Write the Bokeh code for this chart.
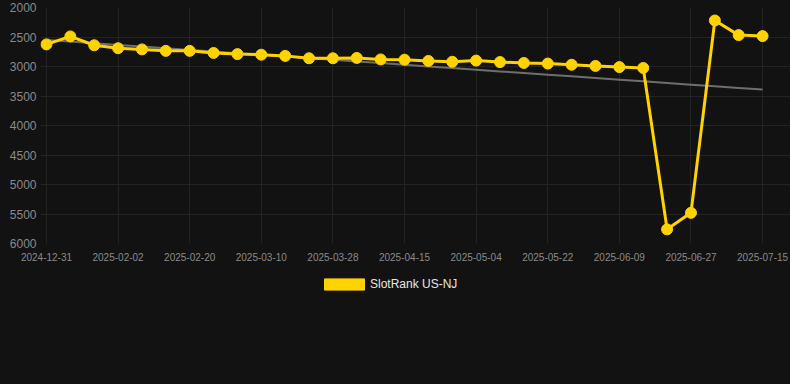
import numpy as np
from bokeh.plotting import figure
from bokeh.layouts import column
from bokeh.models import Range1d, FixedTicker, Legend, LegendItem
from bokeh.embed import file_html
from bokeh.resources import INLINE

dates = ["2024-12-31", "2025-01-12", "2025-01-24", "2025-02-02", "2025-02-08", "2025-02-14",
         "2025-02-20", "2025-02-26", "2025-03-04", "2025-03-10", "2025-03-16", "2025-03-22",
         "2025-03-28", "2025-04-03", "2025-04-09", "2025-04-15", "2025-04-21", "2025-04-27",
         "2025-05-04", "2025-05-10", "2025-05-16", "2025-05-22", "2025-05-28", "2025-06-03",
         "2025-06-09", "2025-06-15", "2025-06-21", "2025-06-27", "2025-07-03", "2025-07-09",
         "2025-07-15"]
ranks = [2625, 2490, 2640, 2690, 2710, 2735, 2735, 2770, 2790, 2800, 2820, 2860,
         2860, 2855, 2880, 2885, 2905, 2920, 2900, 2925, 2940, 2950, 2970, 2990,
         3010, 3025, 5760, 5480, 2220, 2468, 2485]
y_ticks = [2000, 2500, 3000, 3500, 4000, 4500, 5000, 5500, 6000]
series_name = "SlotRank US-NJ"

x = np.arange(len(dates))
slope, intercept = np.polyfit(x, np.array(ranks, dtype=float), 1)
trend = slope * x + intercept

BG = "#121212"
GRID = "#232323"
YELLOW = "#FFD200"
FONT = "Liberation Sans"

p = figure(width=790, height=268, output_backend="svg", toolbar_location=None,
           x_range=Range1d(-0.25, 31.17), y_range=Range1d(6000, 2000),
           min_border_left=40, min_border_right=0, min_border_top=7, min_border_bottom=25)
p.background_fill_color = BG
p.border_fill_color = BG
p.outline_line_color = None

p.line(x, trend, line_color="#6e6e6e", line_width=2)
p.line(x, ranks, line_color=YELLOW, line_width=3)
p.scatter(x, ranks, size=11, fill_color=YELLOW, line_color=YELLOW)

tick_idx = list(range(0, len(dates), 3))
p.xaxis.ticker = FixedTicker(ticks=tick_idx)
p.xaxis.major_label_overrides = {i: dates[i] for i in tick_idx}
p.yaxis.ticker = FixedTicker(ticks=y_ticks)

for ax in (p.xaxis, p.yaxis):
    ax.axis_line_color = None
    ax.major_tick_line_color = None
    ax.minor_tick_line_color = None
    ax.major_tick_out = 0
    ax.major_tick_in = 0
    ax.major_label_text_font = FONT
    ax.major_label_text_color = "#8a8a8a"
p.xaxis.major_label_text_font_size = "10px"
p.yaxis.major_label_text_font_size = "12px"
p.xaxis.major_label_standoff = 9
p.yaxis.major_label_standoff = 4

p.xgrid.grid_line_color = GRID
p.ygrid.grid_line_color = GRID
p.xgrid.ticker = FixedTicker(ticks=tick_idx)
p.ygrid.ticker = FixedTicker(ticks=y_ticks)

# legend strip below the chart
lp = figure(width=790, height=116, output_backend="svg", toolbar_location=None,
            x_range=Range1d(0, 1), y_range=Range1d(0, 1),
            min_border_left=0, min_border_right=0, min_border_top=0, min_border_bottom=0)
lp.axis.visible = False
lp.grid.visible = False
lp.background_fill_color = BG
lp.border_fill_color = BG
lp.outline_line_color = None
legend_glyph = lp.quad(left=[2], right=[2], bottom=[2], top=[2],
                       fill_color=YELLOW, line_color=YELLOW)
legend = Legend(items=[LegendItem(label=series_name, renderers=[legend_glyph])],
                location=(279, 93), orientation="horizontal",
                glyph_width=50, glyph_height=14, label_height=12, label_standoff=1,
                padding=0, margin=0, spacing=0,
                background_fill_alpha=0, border_line_color=None,
                label_text_font=FONT, label_text_font_size="12px",
                label_text_color="#e6e6e6")
lp.add_layout(legend, "center")

layout = column(p, lp, spacing=0)

html = file_html(layout, INLINE)
html = html.replace("</head>", "<style>html, body { background-color: #121212; margin: 0; }</style></head>", 1)
open("out.html", "w").write(html)
